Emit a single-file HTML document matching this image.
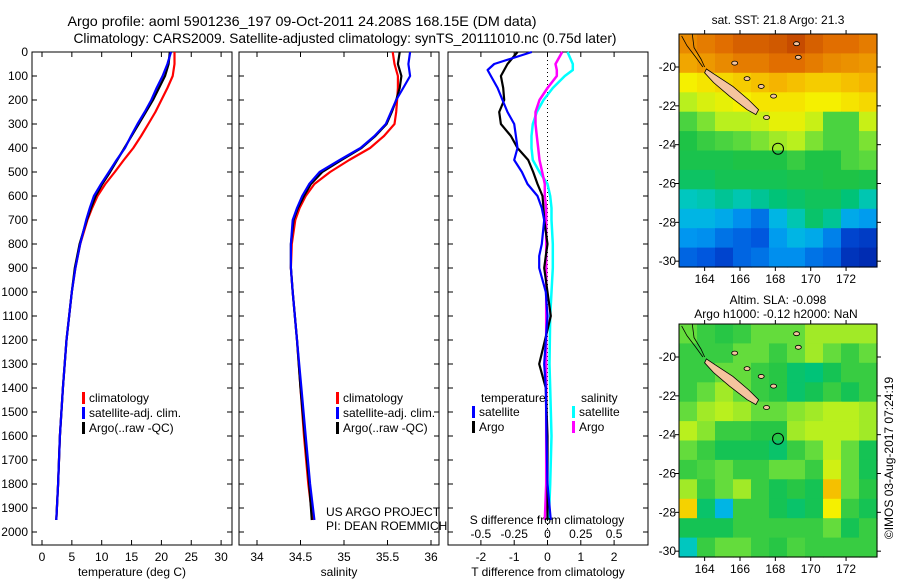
<!DOCTYPE html>
<html><head><meta charset="utf-8">
<style>
body{margin:0;background:#fff;}
svg{display:block;font-family:"Liberation Sans",sans-serif;}
text{fill:#000;}
</style></head>
<body>
<svg id="fig" width="900" height="580" viewBox="0 0 900 580" xmlns="http://www.w3.org/2000/svg">
<rect width="900" height="580" fill="#fff"/>
<text x="302" y="26" font-size="14" text-anchor="middle" textLength="469" lengthAdjust="spacingAndGlyphs">Argo profile: aoml 5901236_197 09-Oct-2011 24.208S 168.15E (DM data)</text>
<text x="345" y="43" font-size="14" text-anchor="middle" textLength="543" lengthAdjust="spacingAndGlyphs">Climatology: CARS2009. Satellite-adjusted climatology: synTS_20111010.nc (0.75d later)</text>
<g id="g"></g>
</svg>
<script>
// ---- data ----
const depths = [0,50,100,150,200,250,300,350,400,450,500,550,600,650,700,800,900,1000,1200,1400,1600,1800,1950];
const tempClim = [22.2,22.2,21.9,21.0,20.0,19.0,17.8,16.6,15.3,13.7,12.2,10.6,9.3,8.4,7.6,6.4,5.6,5.0,4.1,3.5,3.0,2.7,2.4];
const tempSat  = [21.6,21.0,20.2,19.2,18.3,17.2,16.0,14.9,13.9,12.5,11.2,9.9,8.7,8.0,7.4,6.4,5.6,5.0,4.1,3.5,3.0,2.7,2.4];
const tempArgo = [21.4,21.2,20.6,19.6,18.6,17.4,16.2,15.0,13.8,12.6,11.4,10.1,9.0,8.2,7.5,6.3,5.5,5.0,4.1,3.5,3.0,2.7,2.4];
const salClim = [35.56,35.58,35.62,35.62,35.61,35.60,35.58,35.46,35.30,35.06,34.84,34.66,34.56,34.49,34.44,34.40,34.39,34.41,34.46,34.50,34.54,34.59,34.64];
const salSat  = [35.76,35.74,35.76,35.68,35.60,35.54,35.48,35.35,35.19,34.95,34.72,34.60,34.52,34.46,34.41,34.39,34.39,34.41,34.46,34.51,34.56,34.61,34.66];
const salArgo = [35.64,35.62,35.66,35.64,35.60,35.55,35.49,35.36,35.20,34.97,34.75,34.62,34.54,34.47,34.42,34.39,34.39,34.41,34.46,34.50,34.55,34.60,34.63];
const diffDepths = [0,50,75,100,150,200,250,300,350,400,450,500,550,600,650,700,800,850,900,1000,1100,1300,1400,1600,1800,1950];
const dTSat  = [-0.47,-1.6,-1.8,-1.7,-1.5,-1.35,-1.2,-1.0,-0.95,-0.9,-1.0,-0.77,-0.6,-0.3,-0.17,-0.1,-0.17,-0.25,-0.25,-0.05,0.0,-0.1,-0.05,-0.03,0.0,0.1];
const dTArgo = [-0.9,-1.2,-1.3,-1.4,-1.33,-1.3,-1.45,-1.4,-1.1,-0.9,-0.58,-0.43,-0.3,-0.15,-0.12,-0.1,0.0,-0.05,-0.1,0.0,0.1,-0.25,-0.05,0.0,0.0,0.0];
const dSSat  = [0.15,0.19,0.19,0.13,0.04,-0.03,-0.08,-0.11,-0.12,-0.12,-0.11,-0.06,0.0,0.02,0.03,0.03,0.04,0.04,0.04,0.03,0.02,0.015,0.02,0.03,0.02,0.01];
const dSArgo = [0.11,0.06,0.07,0.07,0.0,-0.06,-0.09,-0.09,-0.08,-0.07,-0.06,-0.04,-0.02,-0.02,-0.01,-0.01,-0.01,-0.01,-0.01,-0.01,-0.01,-0.01,-0.01,-0.01,-0.01,-0.02];
const depthTicks = [0,100,200,300,400,500,600,700,800,900,1000,1100,1200,1300,1400,1500,1600,1700,1800,1900,2000];
const tempTicks = [0,5,10,15,20,25,30];
const salTicks = [34,34.5,35,35.5,36];
const dTTicks = [-2,-1,0,1,2];
const dSTicks = [-0.5,-0.25,0,0.25,0.5];
const lonTicks = [164,166,168,170,172];
const latTicks = [-20,-22,-24,-26,-28,-30];
const sstGrid = [
[0.86,0.88,0.9,0.92,0.92,0.93,0.95,0.92,0.9,0.9,0.88],
[0.82,0.84,0.86,0.88,0.88,0.9,0.9,0.88,0.86,0.85,0.84],
[0.7,0.72,0.74,0.76,0.78,0.8,0.78,0.76,0.76,0.78,0.8],
[0.62,0.66,0.68,0.7,0.72,0.72,0.72,0.7,0.7,0.72,0.74],
[0.52,0.57,0.62,0.62,0.64,0.68,0.68,0.64,0.52,0.52,0.64],
[0.47,0.5,0.52,0.54,0.57,0.6,0.62,0.57,0.52,0.52,0.57],
[0.46,0.46,0.46,0.47,0.47,0.47,0.5,0.47,0.47,0.52,0.54],
[0.43,0.43,0.45,0.45,0.45,0.45,0.46,0.46,0.47,0.47,0.46],
[0.35,0.36,0.38,0.36,0.38,0.4,0.42,0.44,0.44,0.4,0.36],
[0.3,0.3,0.28,0.24,0.2,0.3,0.36,0.42,0.38,0.28,0.26],
[0.25,0.24,0.2,0.18,0.16,0.26,0.3,0.28,0.22,0.12,0.1],
[0.18,0.16,0.12,0.18,0.2,0.24,0.24,0.2,0.18,0.08,0.06]];
const slaGrid = [
[0.55,0.5,0.48,0.5,0.55,0.55,0.55,0.6,0.6,0.6,0.6],
[0.5,0.5,0.5,0.55,0.55,0.5,0.55,0.6,0.55,0.5,0.55],
[0.5,0.5,0.55,0.55,0.5,0.48,0.42,0.4,0.45,0.5,0.5],
[0.5,0.55,0.6,0.55,0.5,0.48,0.42,0.45,0.5,0.45,0.5],
[0.55,0.6,0.62,0.6,0.55,0.55,0.58,0.6,0.62,0.62,0.6],
[0.62,0.58,0.5,0.5,0.48,0.48,0.6,0.62,0.62,0.62,0.6],
[0.55,0.5,0.45,0.45,0.45,0.42,0.5,0.55,0.62,0.55,0.45],
[0.5,0.52,0.55,0.5,0.5,0.55,0.55,0.5,0.65,0.55,0.45],
[0.6,0.5,0.55,0.6,0.5,0.45,0.48,0.45,0.78,0.55,0.48],
[0.75,0.42,0.3,0.5,0.5,0.45,0.42,0.45,0.7,0.5,0.45],
[0.45,0.45,0.45,0.5,0.5,0.5,0.5,0.5,0.55,0.45,0.5],
[0.35,0.5,0.55,0.55,0.5,0.48,0.52,0.5,0.5,0.5,0.5]];
const argoLon = 168.15, argoLat = -24.208;

// ---- drawing ----
const NS='http://www.w3.org/2000/svg';
const G=document.getElementById('g');
function el(tag,attrs,parent){const e=document.createElementNS(NS,tag);for(const k in attrs)e.setAttribute(k,attrs[k]);(parent||G).appendChild(e);return e;}
function txt(x,y,s,size,anchor,parent){const t=el('text',{x:x,y:y,'font-size':size||12,'text-anchor':anchor||'middle'},parent);t.textContent=s;return t;}

const yD = d => 52 + 0.24*d;
const PB = 545;
const xT = t => 42 + 5.97*t;
const xS = s => 257 + 87*(s-34);
const xdT = v => 547.5 + 33.3*v;
const xdS = v => 547.5 + 133.2*v;

function box(x0,x1,name){
  const r=el('rect',{x:x0,y:52,width:x1-x0,height:PB-52,fill:'none',stroke:'#000','stroke-width':1});
  
  
  depthTicks.forEach(d=>{el('line',{x1:x0,x2:x0+5,y1:yD(d),y2:yD(d),stroke:'#000'});el('line',{x1:x1-5,x2:x1,y1:yD(d),y2:yD(d),stroke:'#000'});});
}
function xticks(ticks,fx,x0,x1){
  ticks.forEach(v=>{const x=fx(v);el('line',{x1:x,x2:x,y1:PB,y2:PB-5,stroke:'#000'});el('line',{x1:x,x2:x,y1:52,y2:57,stroke:'#000'});
    const t=txt(x,561,String(v),12);
    
    });
}
function line(xs,ys,fx,color,w,name){
  const pts=xs.map((v,i)=>fx(v).toFixed(1)+','+yD(ys[i]).toFixed(1)).join(' ');
  const p=el('polyline',{points:pts,fill:'none',stroke:color,'stroke-width':w||2,'stroke-linejoin':'round'});
  
  
}
function legend(x,y,items){
  items.forEach((it,i)=>{el('rect',{x:x,y:y+i*15-10,width:3,height:12,fill:it[1]});
    const t=txt(x+7,y+i*15,it[0],12,'start');
    
    });
}

// panel 1
box(32,232,'temperature-panel');
depthTicks.forEach(d=>{const t=txt(28,yD(d)+4,String(d),12,'end');
  
  });
xticks(tempTicks,xT,32,232);
line(tempClim,depths,xT,'#ff0000',2.2,'temp-climatology-line');
line(tempArgo,depths,xT,'#000000',2.2,'temp-argo-line');
line(tempSat,depths,xT,'#0000ff',2.2,'temp-satellite-line');
legend(82,402,[['climatology','#ff0000'],['satellite-adj. clim.','#0000ff'],['Argo(..raw -QC)','#000000']]);
const xl1=txt(132,576,'temperature (deg C)',12);



// panel 2
box(239,439,'salinity-panel');
xticks(salTicks,xS,239,439);
line(salClim,depths,xS,'#ff0000',2.2,'sal-climatology-line');
line(salArgo,depths,xS,'#000000',2.2,'sal-argo-line');
line(salSat,depths,xS,'#0000ff',2.2,'sal-satellite-line');
legend(336,402,[['climatology','#ff0000'],['satellite-adj. clim.','#0000ff'],['Argo(..raw -QC)','#000000']]);
const xl2=txt(339,576,'salinity',12);


const pr1=txt(326,516,'US ARGO PROJECT',12,'start');


const pr2=txt(326,530,'PI: DEAN ROEMMICH',12,'start');



// panel 3
box(448,648,'difference-panel');
xticks(dTTicks,xdT,448,648);
el('line',{x1:xdT(0),x2:xdT(0),y1:52,y2:PB,stroke:'#000','stroke-dasharray':'1,3'});
line(dSSat,diffDepths,xdS,'#00ffff',2.5,'sal-diff-satellite-line');
line(dSArgo,diffDepths,xdS,'#ff00ff',2.5,'sal-diff-argo-line');
line(dTArgo,diffDepths,xdT,'#000000',2.2,'temp-diff-argo-line');
line(dTSat,diffDepths,xdT,'#0000ff',2.2,'temp-diff-satellite-line');
dSTicks.forEach(v=>{const t=txt(xdS(v),538,String(v),12);
  
  });
const sdl=txt(547,524,'S difference from climatology',12);


const tdl=txt(548,576,'T difference from climatology',12);


txt(481,402,'temperature',12,'start');
txt(581,402,'salinity',12,'start');
legend(472,416,[['satellite','#0000ff'],['Argo','#000000']]);
legend(572,416,[['satellite','#00ffff'],['Argo','#ff00ff']]);

// maps
const stops=[[0,[0,20,150]],[0.15,[0,80,220]],[0.25,[0,150,240]],[0.33,[0,200,220]],[0.4,[0,195,120]],[0.47,[30,195,70]],[0.55,[100,220,60]],[0.62,[185,240,30]],[0.7,[245,240,0]],[0.8,[245,180,0]],[0.9,[225,110,0]],[1,[170,40,0]]];
function cmap(v){for(let i=1;i<stops.length;i++){if(v<=stops[i][0]){const a=stops[i-1],b=stops[i],f=(v-a[0])/(b[0]-a[0]);const c=a[1].map((q,k)=>Math.round(q+(b[1][k]-q)*f));return 'rgb('+c+')';}}return 'rgb(170,40,0)';}
const LON0=162.55, LON1=173.75, LAT0=-18.3, LAT1=-30.3;
function drawMap(y0,y1,grid,name,title1,title2){
  const x0=679,x1=877;
  const fx=lon=>x0+(lon-LON0)/(LON1-LON0)*(x1-x0);
  const fy=lat=>y0+(LAT0-lat)/(LAT0-LAT1)*(y1-y0);
  const g=el('g',{});
  
  
  const nr=grid.length,nc=grid[0].length;
  const cw=(x1-x0)/nc,ch=(y1-y0)/nr;
  grid.forEach((row,r)=>row.forEach((v,c)=>{const cell=el('rect',{x:(x0+c*cw).toFixed(1),y:(y0+r*ch).toFixed(1),width:(cw+0.6).toFixed(1),height:(ch+0.6).toFixed(1),fill:cmap(v)},g);
    
    }));
  el('polygon',{points:[[164.1,-20.1],[164.6,-20.4],[165.6,-21.0],[166.5,-21.7],[167.05,-22.2],[166.9,-22.45],[166.4,-22.2],[165.4,-21.5],[164.5,-20.8],[164.0,-20.3]].map(p=>fx(p[0]).toFixed(1)+','+fy(p[1]).toFixed(1)).join(' '),fill:'#f5c49e',stroke:'#000','stroke-width':0.8},g);
  [[165.7,-19.8],[166.4,-20.6],[167.2,-21.0],[167.9,-21.5],[169.2,-18.8],[169.3,-19.5],[167.5,-22.6]].forEach(p=>el('ellipse',{cx:fx(p[0]),cy:fy(p[1]),rx:3,ry:2,fill:'#f5c49e',stroke:'#000','stroke-width':0.8},g));
  el('polyline',{points:[[162.7,-18.4],[163.0,-18.9],[163.5,-19.5],[163.9,-20.0]].map(p=>fx(p[0])+','+fy(p[1])).join(' '),fill:'none',stroke:'#000','stroke-width':0.8},g);
  el('polyline',{points:[[163.3,-18.3],[163.4,-19.0],[163.8,-19.6],[164.0,-20.0]].map(p=>fx(p[0])+','+fy(p[1])).join(' '),fill:'none',stroke:'#000','stroke-width':0.8},g);
  const c=el('circle',{cx:fx(argoLon),cy:fy(argoLat),r:5.5,fill:'none',stroke:'#000','stroke-width':1},g);
  
  
  el('rect',{x:x0,y:y0,width:x1-x0,height:y1-y0,fill:'none',stroke:'#000'},g);
  lonTicks.forEach(l=>{const x=fx(l);el('line',{x1:x,x2:x,y1:y1,y2:y1+4,stroke:'#000'},g);el('line',{x1:x,x2:x,y1:y0,y2:y0-4,stroke:'#000'},g);
    const t=txt(x,y1+16,String(l),12,'middle',g);
    
    });
  latTicks.forEach(l=>{const y=fy(l);el('line',{x1:x0,x2:x0-4,y1:y,y2:y,stroke:'#000'},g);el('line',{x1:x1,x2:x1+4,y1:y,y2:y,stroke:'#000'},g);
    const t=txt(x0-3,y+4,String(l),12,'end',g);
    
    });
  const t1=txt(778,title2?y0-20:y0-10,title1,12,'middle',g);
  
  
  if(title2){const t2=txt(776,y0-6,title2,12,'middle',g);
    
    }
}
drawMap(34,267,sstGrid,'sst-map','sat. SST: 21.8  Argo: 21.3');
drawMap(324,557,slaGrid,'sla-map','Altim. SLA: -0.098','Argo h1000: -0.12 h2000: NaN');
const cr=txt(0,0,'\u00A9IMOS 03-Aug-2017 07:24:19',12,'middle');
cr.setAttribute('transform','translate(893,458) rotate(-90)');


</script>
</body></html>
